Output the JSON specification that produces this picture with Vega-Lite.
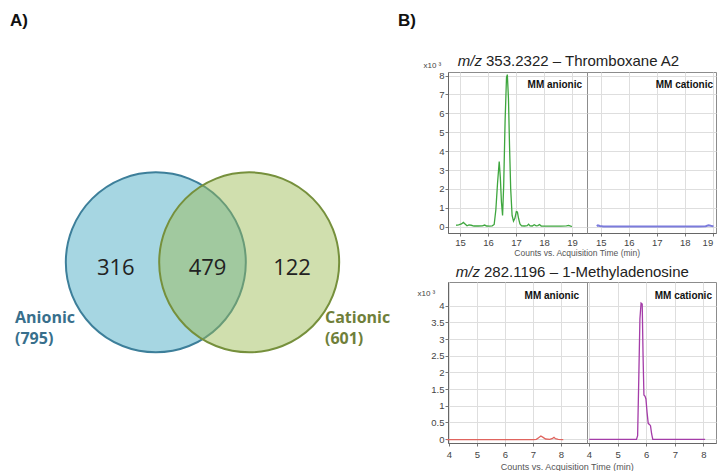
{
  "$schema": "https://vega.github.io/schema/vega-lite/v6.json",
  "padding": 0,
  "bounds": "flush",
  "spacing": 48,
  "config": {
    "view": {"stroke": null},
    "font": "Liberation Sans",
    "axis": {"labelFont": "Liberation Sans", "titleFont": "Liberation Sans", "labelOverlap": false, "tickCount": 20, "format": "~g", "gridColor": "#dedede", "gridWidth": 1}
  },
  "datasets": {
    "venn_regions": [
      {"region": "Anionic only", "count": 316},
      {"region": "Both", "count": 479},
      {"region": "Cationic only", "count": 122}
    ],
    "thromboxane_anionic": [
      {"time": 14.86, "counts": 0.08}, {"time": 14.95, "counts": 0.1}, {"time": 15.05, "counts": 0.15},
      {"time": 15.12, "counts": 0.23}, {"time": 15.18, "counts": 0.15}, {"time": 15.25, "counts": 0.05},
      {"time": 15.32, "counts": 0.1}, {"time": 15.4, "counts": 0.08}, {"time": 15.5, "counts": 0.04},
      {"time": 15.65, "counts": 0.04}, {"time": 15.8, "counts": 0.05}, {"time": 15.88, "counts": 0.09},
      {"time": 15.95, "counts": 0.04}, {"time": 16.05, "counts": 0.03}, {"time": 16.15, "counts": 0.05},
      {"time": 16.22, "counts": 0.12}, {"time": 16.28, "counts": 0.9}, {"time": 16.34, "counts": 2.3},
      {"time": 16.4, "counts": 3.45}, {"time": 16.44, "counts": 2.6}, {"time": 16.48, "counts": 1.3},
      {"time": 16.52, "counts": 0.6}, {"time": 16.56, "counts": 2.2}, {"time": 16.61, "counts": 5.6},
      {"time": 16.66, "counts": 7.9}, {"time": 16.69, "counts": 8.05}, {"time": 16.73, "counts": 6.8},
      {"time": 16.77, "counts": 4.2}, {"time": 16.81, "counts": 2.0}, {"time": 16.86, "counts": 0.6},
      {"time": 16.91, "counts": 0.3}, {"time": 16.96, "counts": 0.45}, {"time": 17.01, "counts": 0.8},
      {"time": 17.05, "counts": 0.78}, {"time": 17.09, "counts": 0.45}, {"time": 17.14, "counts": 0.15},
      {"time": 17.2, "counts": 0.05}, {"time": 17.3, "counts": 0.04}, {"time": 17.4, "counts": 0.06},
      {"time": 17.45, "counts": 0.14}, {"time": 17.5, "counts": 0.05}, {"time": 17.58, "counts": 0.04},
      {"time": 17.65, "counts": 0.11}, {"time": 17.72, "counts": 0.05}, {"time": 17.78, "counts": 0.06},
      {"time": 17.84, "counts": 0.12}, {"time": 17.9, "counts": 0.04}, {"time": 18.0, "counts": 0.03},
      {"time": 18.2, "counts": 0.03}, {"time": 18.4, "counts": 0.03}, {"time": 18.6, "counts": 0.03},
      {"time": 18.8, "counts": 0.05}, {"time": 18.88, "counts": 0.07}, {"time": 18.95, "counts": 0.03},
      {"time": 19.0, "counts": 0.02}
    ],
    "thromboxane_cationic": [
      {"time": 14.86, "counts": 0.03}, {"time": 14.9, "counts": 0.07}, {"time": 14.97, "counts": 0.04},
      {"time": 15.1, "counts": 0.02}, {"time": 15.5, "counts": 0.02}, {"time": 16.0, "counts": 0.02},
      {"time": 16.5, "counts": 0.02}, {"time": 17.0, "counts": 0.02}, {"time": 17.5, "counts": 0.02},
      {"time": 18.0, "counts": 0.02}, {"time": 18.5, "counts": 0.02}, {"time": 18.75, "counts": 0.03},
      {"time": 18.85, "counts": 0.08}, {"time": 18.93, "counts": 0.05}, {"time": 19.03, "counts": 0.02}
    ],
    "methyladenosine_anionic": [
      {"time": 3.92, "counts": -0.02}, {"time": 4.5, "counts": -0.02}, {"time": 5.0, "counts": -0.02},
      {"time": 5.5, "counts": -0.02}, {"time": 6.0, "counts": -0.02}, {"time": 6.5, "counts": -0.02},
      {"time": 7.0, "counts": -0.02}, {"time": 7.12, "counts": -0.01}, {"time": 7.2, "counts": 0.04},
      {"time": 7.28, "counts": 0.09}, {"time": 7.36, "counts": 0.05}, {"time": 7.45, "counts": 0.0},
      {"time": 7.6, "counts": -0.01}, {"time": 7.7, "counts": 0.02}, {"time": 7.75, "counts": 0.05},
      {"time": 7.8, "counts": 0.01}, {"time": 7.9, "counts": -0.01}, {"time": 8.08, "counts": -0.02}
    ],
    "methyladenosine_cationic": [
      {"time": 4.01, "counts": -0.01}, {"time": 4.5, "counts": -0.01}, {"time": 5.0, "counts": -0.01},
      {"time": 5.5, "counts": -0.01}, {"time": 5.66, "counts": -0.01}, {"time": 5.7, "counts": 0.1},
      {"time": 5.74, "counts": 1.8}, {"time": 5.78, "counts": 3.6}, {"time": 5.82, "counts": 4.08},
      {"time": 5.86, "counts": 4.05}, {"time": 5.89, "counts": 2.5}, {"time": 5.92, "counts": 1.32},
      {"time": 5.96, "counts": 1.28}, {"time": 5.99, "counts": 1.2}, {"time": 6.03, "counts": 0.8},
      {"time": 6.07, "counts": 0.47}, {"time": 6.12, "counts": 0.43}, {"time": 6.15, "counts": 0.4},
      {"time": 6.19, "counts": 0.15}, {"time": 6.23, "counts": -0.01}, {"time": 6.5, "counts": -0.01},
      {"time": 7.0, "counts": -0.01}, {"time": 7.5, "counts": -0.01}, {"time": 8.06, "counts": -0.01}
    ]
  },
  "hconcat": [
    {
      "width": 400,
      "height": 471,
      "encoding": {
        "x": {"type": "quantitative", "scale": {"domain": [-2.2253, 2.1703], "nice": false, "zero": false}, "axis": null},
        "y": {"type": "quantitative", "scale": {"domain": [-2.2934, 2.8824], "nice": false, "zero": false}, "axis": null}
      },
      "layer": [
        {
          "data": {"values": [{"set": "Anionic", "total": 795}]},
          "mark": {"type": "point", "shape": "circle", "filled": true, "size": 32400, "strokeWidth": 2, "fill": "#a6d6e2", "stroke": "#3d7f9a", "fillOpacity": 1, "strokeOpacity": 1},
          "encoding": {"x": {"datum": -0.513}, "y": {"datum": 0}}
        },
        {
          "data": {"values": [{"set": "Cationic", "total": 601}]},
          "mark": {"type": "point", "shape": "circle", "filled": true, "size": 32400, "strokeWidth": 2, "fill": "#9bbb53", "stroke": "#76903c", "fillOpacity": 0.47, "strokeOpacity": 1},
          "encoding": {"x": {"datum": 0.513}, "y": {"datum": 0}}
        },
        {
          "data": {"name": "venn_regions"},
          "transform": [{"filter": "datum.region === 'Anionic only'"}],
          "mark": {"type": "text", "font": "Open Sans", "fontSize": 22, "color": "#222222", "baseline": "middle", "align": "center"},
          "encoding": {"text": {"field": "count", "type": "quantitative"}, "x": {"datum": -0.953}, "y": {"datum": -0.063}}
        },
        {
          "data": {"name": "venn_regions"},
          "transform": [{"filter": "datum.region === 'Both'"}],
          "mark": {"type": "text", "font": "Open Sans", "fontSize": 22, "color": "#222222", "baseline": "middle", "align": "center"},
          "encoding": {"text": {"field": "count", "type": "quantitative"}, "x": {"datum": 0.055}, "y": {"datum": -0.063}}
        },
        {
          "data": {"name": "venn_regions"},
          "transform": [{"filter": "datum.region === 'Cationic only'"}],
          "mark": {"type": "text", "font": "Open Sans", "fontSize": 22, "color": "#222222", "baseline": "middle", "align": "center"},
          "encoding": {"text": {"field": "count", "type": "quantitative"}, "x": {"datum": 0.984}, "y": {"datum": -0.063}}
        },
        {
          "data": {"values": [{}]},
          "mark": {"type": "text", "text": ["Anionic", "(795)"], "font": "Open Sans", "fontWeight": "bold", "fontSize": 16, "lineHeight": 21, "color": "#386f8c", "align": "left", "baseline": "middle"},
          "encoding": {"x": {"datum": -2.06}, "y": {"datum": -0.612}}
        },
        {
          "data": {"values": [{}]},
          "mark": {"type": "text", "text": ["Cationic", "(601)"], "font": "Open Sans", "fontWeight": "bold", "fontSize": 16, "lineHeight": 21, "color": "#6f7f3a", "align": "left", "baseline": "middle"},
          "encoding": {"x": {"datum": 1.346}, "y": {"datum": -0.612}}
        },
        {
          "data": {"values": [{}]},
          "mark": {"type": "text", "text": "A)", "font": "Liberation Sans", "fontWeight": "bold", "fontSize": 17, "color": "#111111", "align": "left", "baseline": "middle"},
          "encoding": {"x": {"datum": -2.115}, "y": {"datum": 2.652}}
        },
        {
          "data": {"values": [{}]},
          "mark": {"type": "text", "text": "B)", "font": "Liberation Sans", "fontWeight": "bold", "fontSize": 17, "color": "#111111", "align": "left", "baseline": "middle"},
          "encoding": {"x": {"datum": 2.148}, "y": {"datum": 2.652}}
        }
      ]
    },
    {
      "bounds": "flush",
      "columns": 2,
      "spacing": {"row": 49, "column": 0},
      "concat": [
        {
          "width": 139,
          "height": 23,
          "data": {"values": [{}]},
          "mark": {"type": "text", "text": ""},
          "encoding": {}
        },
        {
          "width": 129,
          "height": 23,
          "data": {"values": [{}]},
          "mark": {"type": "text", "text": ""},
          "encoding": {}
        },
        {
          "width": 139,
          "height": 161,
          "view": {"stroke": "#8c8c8c", "strokeWidth": 1},
          "layer": [
            {
              "data": {"name": "thromboxane_anionic"},
              "mark": {"type": "line", "color": "#3ea63e", "strokeWidth": 1.3},
              "encoding": {
                "x": {"field": "time", "type": "quantitative", "scale": {"domain": [14.571, 19.535], "nice": false, "zero": false},
                  "axis": {"values": [15, 16, 17, 18, 19], "tickCount": 20, "format": "~g", "title": "Counts vs. Acquisition Time (min)", "titleX": 128.7, "titleY": 19, "titleAlign": "center", "titleBaseline": "middle", "titleFontSize": 8.5, "titleFontWeight": "normal", "titleColor": "#555555", "labelFontSize": 9.5, "labelColor": "#444444", "labelPadding": 1, "tickSize": 3, "tickColor": "#777777", "domainColor": "#666666"}},
                "y": {"field": "counts", "type": "quantitative", "scale": {"domain": [-0.33, 8.19], "nice": false, "zero": false},
                  "axis": {"values": [0, 1, 2, 3, 4, 5, 6, 7, 8], "tickCount": 20, "format": "~g", "title": "x10 ³", "titleAngle": 0, "titleAlign": "left", "titleBaseline": "middle", "titleX": -25, "titleY": -7, "titleFontSize": 8, "titleFontWeight": "normal", "titleColor": "#444444", "labelFontSize": 9.5, "labelColor": "#444444", "labelPadding": 1, "tickSize": 3, "tickColor": "#777777", "domainColor": "#666666", "grid": true}}
              }
            },
            {
              "data": {"values": [{}]},
              "mark": {"type": "text", "text": "MM anionic", "fontWeight": "bold", "fontSize": 10, "color": "#111111", "align": "right", "baseline": "middle"},
              "encoding": {"x": {"datum": 19.357}, "y": {"datum": 7.51}}
            },
            {
              "data": {"values": [{}]},
              "mark": {"type": "text", "text": "m/z", "fontStyle": "italic", "fontSize": 15, "color": "#222222", "align": "right", "baseline": "middle"},
              "encoding": {"x": {"datum": 15.785}, "y": {"datum": 8.767}}
            },
            {
              "data": {"values": [{}]},
              "mark": {"type": "text", "text": "353.2322 – Thromboxane A2", "fontSize": 15, "color": "#222222", "align": "left", "baseline": "middle"},
              "encoding": {"x": {"datum": 15.928}, "y": {"datum": 8.767}}
            }
          ]
        },
        {
          "width": 129,
          "height": 161,
          "view": {"stroke": "#8c8c8c", "strokeWidth": 1},
          "layer": [
            {
              "data": {"name": "thromboxane_cationic"},
              "mark": {"type": "line", "color": "#7b7bdc", "strokeWidth": 2},
              "encoding": {
                "x": {"field": "time", "type": "quantitative", "scale": {"domain": [14.511, 19.118], "nice": false, "zero": false},
                  "axis": {"values": [15, 16, 17, 18, 19], "tickCount": 20, "format": "~g", "title": null, "labelFlush": 5, "labelFontSize": 9.5, "labelColor": "#444444", "labelPadding": 1, "tickSize": 3, "tickColor": "#777777", "domainColor": "#666666"}},
                "y": {"field": "counts", "type": "quantitative", "scale": {"domain": [-0.33, 8.19], "nice": false, "zero": false},
                  "axis": {"values": [0, 1, 2, 3, 4, 5, 6, 7, 8], "tickCount": 20, "title": null, "labels": false, "ticks": false, "domain": false, "grid": true}}
              }
            },
            {
              "data": {"values": [{}]},
              "mark": {"type": "text", "text": "MM cationic", "fontWeight": "bold", "fontSize": 10, "color": "#111111", "align": "right", "baseline": "middle"},
              "encoding": {"x": {"datum": 19.011}, "y": {"datum": 7.51}}
            }
          ]
        },
        {
          "width": 139,
          "height": 161,
          "view": {"stroke": "#8c8c8c", "strokeWidth": 1},
          "layer": [
            {
              "data": {"name": "methyladenosine_anionic"},
              "mark": {"type": "line", "color": "#e0645e", "strokeWidth": 1.3},
              "encoding": {
                "x": {"field": "time", "type": "quantitative", "scale": {"domain": [3.964, 8.928], "nice": false, "zero": false},
                  "axis": {"values": [4, 5, 6, 7, 8], "tickCount": 20, "format": "~g", "title": "Counts vs. Acquisition Time (min)", "titleX": 118.7, "titleY": 23, "titleAlign": "center", "titleBaseline": "middle", "titleFontSize": 9, "titleFontWeight": "normal", "titleColor": "#555555", "labelFontSize": 9.5, "labelColor": "#444444", "labelPadding": 3, "tickSize": 3, "tickColor": "#777777", "domainColor": "#666666"}},
                "y": {"field": "counts", "type": "quantitative", "scale": {"domain": [-0.12, 4.71], "nice": false, "zero": false},
                  "axis": {"values": [0, 0.5, 1, 1.5, 2, 2.5, 3, 3.5, 4], "tickCount": 20, "format": "~g", "title": "x10 ³", "titleAngle": 0, "titleAlign": "left", "titleBaseline": "middle", "titleX": -31, "titleY": 11, "titleFontSize": 8, "titleFontWeight": "normal", "titleColor": "#444444", "labelFontSize": 9.5, "labelColor": "#444444", "labelPadding": 1, "tickSize": 3, "tickColor": "#777777", "domainColor": "#666666", "grid": true}}
              }
            },
            {
              "data": {"values": [{}]},
              "mark": {"type": "text", "text": "MM anionic", "fontWeight": "bold", "fontSize": 10, "color": "#111111", "align": "right", "baseline": "middle"},
              "encoding": {"x": {"datum": 8.643}, "y": {"datum": 4.29}}
            },
            {
              "data": {"values": [{}]},
              "mark": {"type": "text", "text": "m/z", "fontStyle": "italic", "fontSize": 15, "color": "#222222", "align": "right", "baseline": "middle"},
              "encoding": {"x": {"datum": 5.107}, "y": {"datum": 5.02}}
            },
            {
              "data": {"values": [{}]},
              "mark": {"type": "text", "text": "282.1196 – 1-Methyladenosine", "fontSize": 15, "color": "#222222", "align": "left", "baseline": "middle"},
              "encoding": {"x": {"datum": 5.25}, "y": {"datum": 5.02}}
            }
          ]
        },
        {
          "width": 129,
          "height": 161,
          "view": {"stroke": "#8c8c8c", "strokeWidth": 1},
          "layer": [
            {
              "data": {"name": "methyladenosine_cationic"},
              "mark": {"type": "line", "color": "#a43ca8", "strokeWidth": 1.3},
              "encoding": {
                "x": {"field": "time", "type": "quantitative", "scale": {"domain": [3.93, 8.44], "nice": false, "zero": false},
                  "axis": {"values": [4, 5, 6, 7, 8], "tickCount": 20, "format": "~g", "title": null, "labelFontSize": 9.5, "labelColor": "#444444", "labelPadding": 3, "tickSize": 3, "tickColor": "#777777", "domainColor": "#666666"}},
                "y": {"field": "counts", "type": "quantitative", "scale": {"domain": [-0.12, 4.71], "nice": false, "zero": false},
                  "axis": {"values": [0, 0.5, 1, 1.5, 2, 2.5, 3, 3.5, 4], "tickCount": 20, "title": null, "labels": false, "ticks": false, "domain": false, "grid": true}}
              }
            },
            {
              "data": {"values": [{}]},
              "mark": {"type": "text", "text": "MM cationic", "fontWeight": "bold", "fontSize": 10, "color": "#111111", "align": "right", "baseline": "middle"},
              "encoding": {"x": {"datum": 8.299}, "y": {"datum": 4.29}}
            }
          ]
        }
      ]
    }
  ]
}
